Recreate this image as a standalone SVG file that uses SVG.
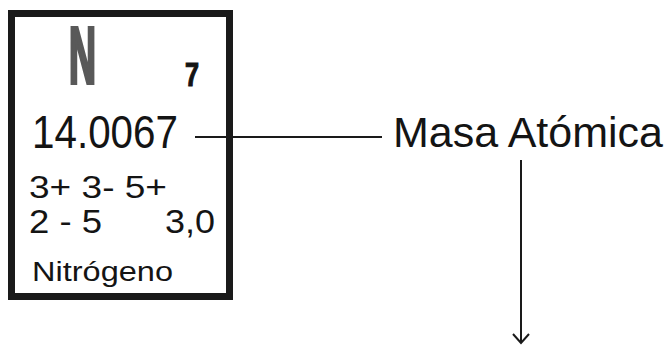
<svg xmlns="http://www.w3.org/2000/svg" width="670" height="345" viewBox="0 0 670 345">
<style>
text{font-family:"Liberation Sans",Arial,sans-serif;fill:#141414}
.b{font-weight:bold}
.ln{stroke:#1a1a1a;stroke-width:2;fill:none}
</style>
<rect width="670" height="345" fill="#fff"/>
<g id="element">
<rect x="11.5" y="13.5" width="218" height="283" fill="#fff" stroke="#1a1a1a" stroke-width="7"/>
<text x="69" y="83" font-size="80" class="b" style="fill:#595959;stroke:#595959;stroke-width:4" textLength="27" lengthAdjust="spacingAndGlyphs">N</text>
<text x="185" y="86" font-size="33" class="b" style="stroke:#141414;stroke-width:1.2" textLength="14" lengthAdjust="spacingAndGlyphs">7</text>
<text x="32" y="148" font-size="46" textLength="146" lengthAdjust="spacingAndGlyphs">14.0067</text>
<text x="29" y="198" font-size="32" textLength="138" lengthAdjust="spacingAndGlyphs">3+ 3- 5+</text>
<text x="29" y="233" font-size="34" textLength="73" lengthAdjust="spacingAndGlyphs">2 - 5</text>
<text x="165" y="233" font-size="34" textLength="50" lengthAdjust="spacingAndGlyphs">3,0</text>
<text x="32" y="281" font-size="27" textLength="141" lengthAdjust="spacingAndGlyphs">Nitrógeno</text>
</g>
<g id="label">
<text x="393" y="147" font-size="42" textLength="270" lengthAdjust="spacingAndGlyphs">Masa Atómica</text>
</g>
<g id="connectors">
<line class="ln" x1="195" y1="137" x2="382" y2="137"/>
<line class="ln" x1="521" y1="160" x2="521" y2="342"/>
<polyline class="ln" points="513,334 521,343 529,334"/>
</g>
</svg>
